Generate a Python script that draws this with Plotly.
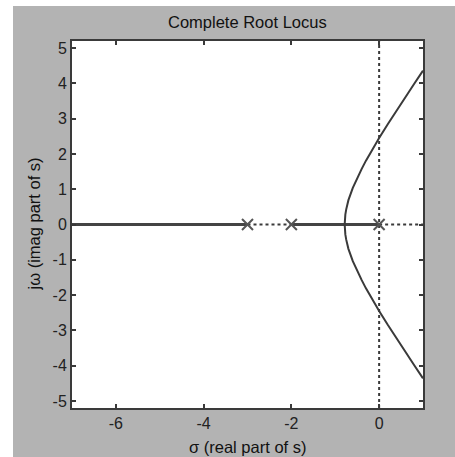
import plotly.graph_objects as go

# Open-loop poles
poles_re = [0.0, -2.0, -3.0]
poles_im = [0.0, 0.0, 0.0]

# Complex branch of the root locus (upper half)
branch_re = [-0.785, -0.78, -0.77, -0.75, -0.7, -0.6, -0.5, -0.4, -0.3, -0.2, -0.1, 0.0, 0.2, 0.4, 0.6, 0.8, 1.0]
branch_im = [0.0, 0.16, 0.28, 0.43, 0.69, 1.04, 1.32, 1.57, 1.81, 2.03, 2.24, 2.45, 2.85, 3.24, 3.62, 3.99, 4.36]

# Real-axis segments (solid = locus, dotted = complementary locus)
solid_segments = [(-7.0, -3.0), (-2.0, 0.0)]
dotted_segments = [(-3.0, -2.0), (0.0, 1.0)]

x_ticks = [-6, -4, -2, 0]
x_tick_labels = ["-6", "-4", "-2", "0"]
y_ticks = [-5, -4, -3, -2, -1, 0, 1, 2, 3, 4, 5]
y_tick_labels = ["-5", "-4", "-3", "-2", "-1", "0", "1", "2", "3", "4", "5"]

line_col = "#3a3a3a"
gray_bg = "#b3b3b3"
font_family = "Liberation Sans, Arial, sans-serif"

fig = go.Figure()

# imaginary axis (dotted)
fig.add_trace(go.Scatter(x=[0, 0], y=[-5.2, 5.2], mode="lines",
                         line=dict(color=line_col, width=2, dash="dot"),
                         showlegend=False, hoverinfo="skip"))

for a, b in dotted_segments:
    fig.add_trace(go.Scatter(x=[a, b], y=[0, 0], mode="lines",
                             line=dict(color=line_col, width=2, dash="dot"),
                             showlegend=False, hoverinfo="skip"))

for a, b in solid_segments:
    fig.add_trace(go.Scatter(x=[a, b], y=[0, 0], mode="lines",
                             line=dict(color="#444444", width=3),
                             showlegend=False, hoverinfo="skip"))

# upper and lower complex branches
fig.add_trace(go.Scatter(x=branch_re, y=branch_im, mode="lines",
                         line=dict(color=line_col, width=2),
                         showlegend=False, hoverinfo="skip"))
fig.add_trace(go.Scatter(x=branch_re, y=[-v for v in branch_im], mode="lines",
                         line=dict(color=line_col, width=2),
                         showlegend=False, hoverinfo="skip"))

# poles
fig.add_trace(go.Scatter(x=poles_re, y=poles_im, mode="markers",
                         marker=dict(symbol="x-thin", size=11,
                                     line=dict(color="#555555", width=2)),
                         showlegend=False, hoverinfo="skip"))

L, R, T, B = 72, 32, 41, 49
W, H = 455, 457
pw, ph = W - L - R, H - T - B

# gray figure background (white strip on the left and top)
fig.add_shape(type="rect", xref="paper", yref="paper",
              x0=(13 - L) / pw, x1=(W + 10 - L) / pw,
              y0=-(H + 10 - (T + ph)) / ph, y1=(T + ph - 6) / ph,
              fillcolor=gray_bg, line=dict(width=0), layer="below")
# white plot area
fig.add_shape(type="rect", xref="paper", yref="paper", x0=0, x1=1, y0=0, y1=1,
              fillcolor="white", line=dict(width=0), layer="below")

axis_common = dict(showgrid=False, zeroline=False, showline=True, linecolor=line_col,
                   linewidth=2, mirror="ticks", ticks="inside", ticklen=4,
                   tickcolor=line_col, tickwidth=1.5,
                   tickfont=dict(family=font_family, size=16, color="#222222"))

fig.update_xaxes(range=[-7, 1], tickvals=x_ticks, ticktext=x_tick_labels, **axis_common)
fig.update_yaxes(range=[-5.2, 5.2], tickvals=y_ticks, ticktext=y_tick_labels, **axis_common)

fig.update_layout(
    width=W, height=H,
    margin=dict(l=L, r=R, t=T, b=B),
    paper_bgcolor="white", plot_bgcolor="rgba(0,0,0,0)",
    showlegend=False,
    annotations=[
        dict(text="Complete Root Locus", xref="paper", yref="paper",
             x=0.5, y=(T + ph - 22) / ph, showarrow=False,
             xanchor="center", yanchor="middle",
             font=dict(family=font_family, size=16.5, color="#111111")),
        dict(text="σ (real part of s)", xref="paper", yref="paper",
             x=0.5, y=-(447 - (T + ph)) / ph, showarrow=False,
             xanchor="center", yanchor="middle",
             font=dict(family=font_family, size=16.5, color="#111111")),
        dict(text="jω (imag part of s)", xref="paper", yref="paper",
             x=(33 - L) / pw, y=0.5, showarrow=False, textangle=-90,
             xanchor="center", yanchor="middle",
             font=dict(family=font_family, size=16.5, color="#111111")),
    ],
)

fig.write_html("out.html")
